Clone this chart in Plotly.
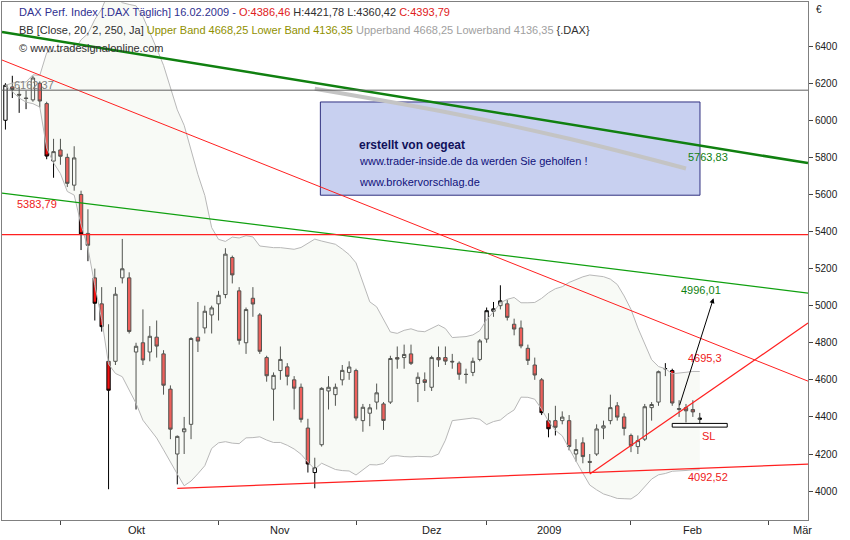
import plotly.graph_objects as go
import pandas as pd

dates = ["2008-09-19","2008-09-22","2008-09-23","2008-09-24","2008-09-25","2008-09-26","2008-09-29","2008-09-30",
"2008-10-01","2008-10-02","2008-10-03","2008-10-06","2008-10-07","2008-10-08","2008-10-09","2008-10-10","2008-10-13","2008-10-14","2008-10-15","2008-10-16","2008-10-17","2008-10-20","2008-10-21","2008-10-22","2008-10-23","2008-10-24","2008-10-27","2008-10-28","2008-10-29","2008-10-30","2008-10-31",
"2008-11-03","2008-11-04","2008-11-05","2008-11-06","2008-11-07","2008-11-10","2008-11-11","2008-11-12","2008-11-13","2008-11-14","2008-11-17","2008-11-18","2008-11-19","2008-11-20","2008-11-21","2008-11-24","2008-11-25","2008-11-26","2008-11-27","2008-11-28",
"2008-12-01","2008-12-02","2008-12-03","2008-12-04","2008-12-05","2008-12-08","2008-12-09","2008-12-10","2008-12-11","2008-12-12","2008-12-15","2008-12-16","2008-12-17","2008-12-18","2008-12-19","2008-12-22","2008-12-23","2008-12-29","2008-12-30",
"2009-01-02","2009-01-05","2009-01-06","2009-01-07","2009-01-08","2009-01-09","2009-01-12","2009-01-13","2009-01-14","2009-01-15","2009-01-16","2009-01-19","2009-01-20","2009-01-21","2009-01-22","2009-01-23","2009-01-26","2009-01-27","2009-01-28","2009-01-29","2009-01-30",
"2009-02-02","2009-02-03","2009-02-04","2009-02-05","2009-02-06","2009-02-09","2009-02-10","2009-02-11","2009-02-12","2009-02-13","2009-02-16"]
opens = [6000,6180,6140,6120,6110,6200,6090,5780,5840,5800,5650,5600,5390,5150,5010,4700,4700,5150,5150,4750,4800,4750,4830,4740,4550,4200,4320,4360,4830,4880,4950,
5010,5060,5260,5080,4800,5040,4950,4720,4550,4650,4670,4600,4560,4340,4100,4250,4540,4520,4600,4640,
4650,4380,4420,4480,4470,4480,4720,4720,4740,4580,4600,4560,4720,4720,4700,4690,4630,4640,4710,
4820,4970,5000,5010,4900,4880,4770,4680,4600,4380,4380,4380,4380,4200,4260,4160,4200,4340,4380,4460,4400,
4300,4240,4280,4450,4480,4660,4650,4440,4450,4440,4386.46]
highs = [6200,6240,6180,6160,6240,6210,6100,5900,5900,5820,5860,5620,5520,5200,5100,4900,5100,5360,5180,4800,4980,4890,4920,4760,4570,4300,4400,4830,5020,5000,5000,
5080,5310,5270,5100,4990,5100,4960,4730,4640,4780,4690,4620,4580,4390,4180,4560,4620,4580,4680,4700,
4660,4470,4470,4580,4480,4730,4780,4790,4790,4640,4640,4730,4780,4780,4740,4700,4660,4720,4820,
4990,5020,5110,5030,4930,4920,4790,4720,4610,4420,4460,4430,4410,4280,4290,4200,4360,4380,4520,4480,4420,
4310,4300,4470,4480,4650,4690,4660,4490,4470,4490,4421.78]
lows = [5950,6120,6040,6060,6100,6070,5790,5690,5760,5640,5620,5300,5240,4920,4860,4010,4680,5120,4850,4440,4680,4700,4720,4520,4280,4036,4200,4280,4750,4850,4850,
4920,5040,5120,4790,4740,4940,4740,4590,4380,4600,4570,4440,4370,4100,4015,4240,4440,4460,4570,4600,
4380,4320,4350,4440,4330,4470,4660,4660,4680,4480,4540,4540,4670,4680,4660,4600,4580,4620,4700,
4800,4940,4980,4920,4840,4770,4680,4600,4410,4290,4300,4360,4220,4160,4150,4100,4190,4280,4360,4380,4300,
4210,4200,4270,4380,4460,4620,4460,4400,4370,4400,4360.42]
closes = [6189,6166,6136,6118,6228,6104,5807,5831,5806,5660,5797,5387,5326,5013,4887,4544,5062,5199,4861,4781,4707,4835,4782,4571,4334,4295,4336,4823,4809,4970,4988,
5056,5278,5166,4813,4979,5009,4754,4622,4624,4710,4619,4555,4387,4146,4127,4554,4560,4560,4651,4669,
4394,4452,4449,4530,4381,4715,4712,4737,4689,4614,4586,4720,4708,4701,4697,4630,4629,4700,4810,
4973,4983,5026,4937,4874,4783,4705,4626,4423,4336,4344,4399,4240,4224,4186,4155,4335,4352,4450,4399,4338,
4245,4272,4455,4467,4644,4660,4475,4445,4433,4427,4393.79]

x0, x1 = "2008-09-18 12:00", "2009-03-09 18:00"
red_down = ([x0, x1], [6325, 4593])
green_thick = ([x0, x1], [6476, 5769])
green_thin = ([x0, x1], [5607, 5068])
red_support = (["2008-10-24", x1], [4015, 4145])
red_rise = (["2009-01-23", x1], [4092, 4906])
grey_curve = (["2008-11-21", "2008-12-22", "2009-01-20", "2009-02-12"], [6170, 6030, 5900, 5740])
h_grey, h_red = 6162.37, 5383.79
y_ticks = [4000, 4200, 4400, 4600, 4800, 5000, 5200, 5400, 5600, 5800, 6000, 6200, 6400]
month_names = ["Okt", "Nov", "Dez", "2009", "Feb", "Mär"]
month_label_dates = ["2008-10-16", "2008-11-14", "2008-12-16", "2009-01-15", "2009-02-13", "2009-03-09"]
month_starts = ["2008-10-01", "2008-11-03", "2008-12-01", "2009-01-02", "2009-02-02", "2009-03-02"]

s = pd.Series(closes)
mid = s.rolling(20, min_periods=1).mean()
sd = s.rolling(20, min_periods=2).std(ddof=0).fillna(0)
upper, lower = mid + 2 * sd, mid - 2 * sd

fig = go.Figure()
fig.add_trace(go.Scatter(x=dates, y=lower, mode="lines", line=dict(color="#b8b8b8", width=1), hoverinfo="skip"))
fig.add_trace(go.Scatter(x=dates, y=upper, mode="lines", line=dict(color="#b8b8b8", width=1), fill="tonexty",
                         fillcolor="rgba(235,240,228,0.35)", hoverinfo="skip"))
fig.add_trace(go.Scatter(x=grey_curve[0], y=grey_curve[1], mode="lines", line=dict(color="#c4c4c4", width=4, shape="spline")))
for (xs, ys), col, w in [(red_down, "#ff2020", 1), (green_thick, "#108010", 2.5), (green_thin, "#10a010", 1.2),
                         (red_support, "#ff2020", 1.2), (red_rise, "#ff2020", 1.2)]:
    fig.add_trace(go.Scatter(x=xs, y=ys, mode="lines", line=dict(color=col, width=w)))
fig.add_trace(go.Candlestick(x=dates, open=opens, high=highs, low=lows, close=closes,
    increasing=dict(line=dict(color="#000000", width=1), fillcolor="#ffffff"),
    decreasing=dict(line=dict(color="#000000", width=1), fillcolor="#ee1111"), whiskerwidth=0))

fig.add_hline(y=h_grey, line=dict(color="#606060", width=1))
fig.add_hline(y=h_red, line=dict(color="#ff2020", width=1.2))

ann = [
    dict(x=0.012, y=0.855, xref="paper", yref="paper", text="6162,37", font=dict(color="#808080")),
    dict(x=0.016, y=0.61, xref="paper", yref="paper", text="5383,79", font=dict(color="#ee2020")),
    dict(x="2009-02-12", y=5800, text="5763,83", font=dict(color="#108010")),
    dict(x="2009-02-11", y=5085, text="4996,01", font=dict(color="#108010")),
    dict(x="2009-02-12", y=4720, text="4695,3", font=dict(color="#ee2020")),
    dict(x="2009-02-12", y=4075, text="4092,52", font=dict(color="#ee2020")),
    dict(x="2009-02-16", y=4295, text="SL", font=dict(color="#ee2020")),
]
for a in ann:
    a.update(showarrow=False, xanchor="left")
    fig.add_annotation(**a)
fig.add_annotation(x="2009-02-18", y=5040, ax="2009-02-11", ay=4455, axref="x", ayref="y",
                   showarrow=True, arrowhead=2, arrowsize=1, arrowwidth=1, arrowcolor="#000000", text="")
fig.add_shape(type="rect", x0="2009-02-10", x1="2009-02-20", y0=4345, y1=4365,
              line=dict(color="#000000", width=1), fillcolor="#ffffff")
fig.add_shape(type="rect", xref="paper", yref="paper", x0=0.395, x1=0.866, y0=0.627, y1=0.807,
              line=dict(color="#303080", width=1), fillcolor="rgba(200,208,240,1)", layer="below")
fig.add_annotation(xref="paper", yref="paper", x=0.44, y=0.742, text="<b>erstellt von oegeat</b>",
                   showarrow=False, xanchor="left", font=dict(color="#10105a", size=12))
fig.add_annotation(xref="paper", yref="paper", x=0.44, y=0.708, text="www.trader-inside.de da werden Sie geholfen !",
                   showarrow=False, xanchor="left", font=dict(color="#10107a", size=11))
fig.add_annotation(xref="paper", yref="paper", x=0.44, y=0.668, text="www.brokervorschlag.de",
                   showarrow=False, xanchor="left", font=dict(color="#10107a", size=11))

hdr = ["<span style='color:#303090'>DAX Perf. Index [.DAX Täglich] 16.02.2009 - </span><span style='color:#e02020'>O:4386,46</span> H:4421,78 L:4360,42 <span style='color:#e02020'>C:4393,79</span>",
       "BB [Close, 20, 2, 250, Ja] <span style='color:#909000'>Upper Band 4668,25 Lower Band 4136,35</span> <span style='color:#a0a0a0'>Upperband 4668,25 Lowerband 4136,35</span> {.DAX}",
       "© www.tradesignalonline.com"]
for i, t in enumerate(hdr):
    fig.add_annotation(xref="paper", yref="paper", x=0.018, y=1 - 0.004 - i * 0.035, text=t, showarrow=False,
                       xanchor="left", yanchor="top", font=dict(size=11, color="#303030"))
for n, d in zip(month_names, month_label_dates):
    fig.add_annotation(x=d, xref="x", yref="paper", y=-0.004, text=n, showarrow=False, yanchor="top",
                       font=dict(size=11, color="#202020"))
fig.add_annotation(xref="paper", yref="paper", x=1.008, y=1.0, text="€", showarrow=False, xanchor="left",
                   yanchor="top", font=dict(size=10))

fig.update_layout(
    width=850, height=540, margin=dict(l=2, r=42, t=2, b=20, autoexpand=False),
    paper_bgcolor="white", plot_bgcolor="white", showlegend=False,
    font=dict(family="Liberation Sans, DejaVu Sans", size=11, color="#202020"),
    xaxis=dict(type="date", range=[x0, x1], rangeslider=dict(visible=False),
               rangebreaks=[dict(bounds=["sat", "mon"]),
                            dict(values=["2008-12-24", "2008-12-25", "2008-12-26", "2008-12-31", "2009-01-01"])],
               tickvals=month_starts, ticktext=[""] * 6, ticks="outside", ticklen=4,
               showgrid=False, showline=True, linecolor="#808080", mirror=True, zeroline=False),
    yaxis=dict(range=[3844, 6638], side="right", tickvals=y_ticks, ticks="outside", ticklen=4, showgrid=False,
               showline=True, linecolor="#808080", mirror=True, zeroline=False, tickformat="d",
               tickfont=dict(size=10)),
)
fig.write_html("out.html", config={"displayModeBar": False},
               post_script="document.body.style.margin='0';document.body.style.padding='0';")
